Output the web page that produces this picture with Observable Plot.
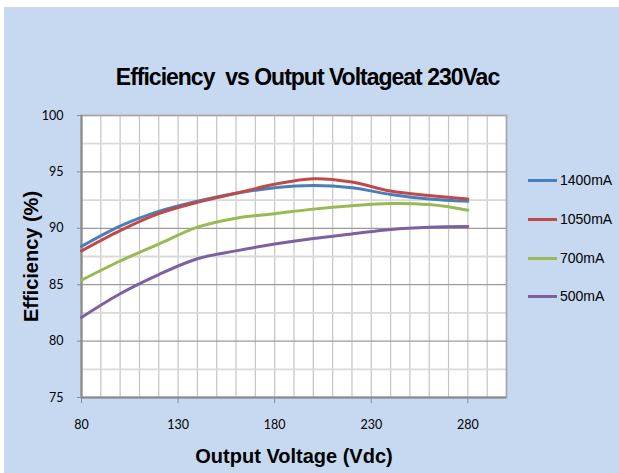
<!DOCTYPE html>
<html>
<head>
<meta charset="utf-8">
<script src="https://cdn.jsdelivr.net/npm/d3@7"></script>
<script src="https://cdn.jsdelivr.net/npm/@observablehq/plot@0.6"></script>
<style>
  html, body { margin: 0; padding: 0; background: #ffffff; }
  #wrap {
    position: relative; width: 619px; height: 473px; box-sizing: border-box;
    border-top: 7px solid #ffffff; border-left: 4px solid #ffffff;
    background: #c6d9f1; overflow: hidden;
    font-family: "Liberation Sans", Arial, sans-serif;
  }
  #title {
    position: absolute; left: 0; width: 607px; top: 57px; text-align: center;
    font-size: 23px; font-weight: bold; letter-spacing: -1px; color: #000; white-space: nowrap;
  }
  #chart { position: absolute; left: 0; top: 93px; }
  #legend { position: absolute; left: 524px; top: 0; }
  .lg { position: absolute; left: 0; white-space: nowrap; font-size: 14px; color: #000; }
  .lg span.sw { display: inline-block; width: 29px; height: 3px; vertical-align: middle; margin-right: 3px; position: relative; top: -1px; }
  g[aria-label="x-axis label"] text, g[aria-label="y-axis label"] text {
    font-size: 20px; font-weight: bold; font-family: "Liberation Sans", Arial, sans-serif;
  }
</style>
</head>
<body>
<div id="wrap">
  <div id="title">Efficiency&nbsp; vs Output Voltageat 230Vac</div>
  <div id="chart"></div>
  <div id="legend"></div>
</div>
<script>
const voltages = [80, 100, 120, 140, 160, 180, 200, 220, 240, 260, 280];
const eff1400 = [88.4, 90.2, 91.5, 92.4, 93.1, 93.6, 93.8, 93.6, 93.0, 92.6, 92.4];
const eff1050 = [88.0, 89.8, 91.3, 92.3, 93.1, 93.9, 94.4, 94.1, 93.3, 92.9, 92.6];
const eff700  = [85.4, 87.1, 88.6, 90.1, 90.9, 91.3, 91.7, 92.0, 92.2, 92.1, 91.6];
const eff500  = [82.1, 84.2, 85.9, 87.3, 88.0, 88.6, 89.1, 89.5, 89.9, 90.1, 90.15];
const seriesNames = ["1400mA", "1050mA", "700mA", "500mA"];
const seriesColors = ["#4a7ebb", "#be4b48", "#98b954", "#7d60a0"];
const xTicks = [80, 130, 180, 230, 280];
const yTicks = [75, 80, 85, 90, 95, 100];

const seriesValues = [eff1400, eff1050, eff700, eff500];
const data = [];
seriesValues.forEach((vals, i) => vals.forEach((v, j) => data.push({series: seriesNames[i], x: voltages[j], y: v})));

const plot = Plot.plot({
  width: 615,
  height: 373,
  marginLeft: 77,
  marginRight: 113,
  marginTop: 15,
  marginBottom: 76,
  style: { background: "transparent", fontFamily: "Lato, 'Liberation Sans', sans-serif", fontSize: "12.5px", color: "#000" },
  x: { domain: [80, 300] },
  y: { domain: [75, 100] },
  color: { domain: seriesNames, range: seriesColors },
  marks: [
    Plot.frame({ fill: "#ffffff", stroke: null }),
    Plot.gridX(d3.range(90, 300, 10), { stroke: "#c4c4c4", strokeOpacity: 1, strokeWidth: 1.2 }),
    Plot.gridY(d3.range(77.5, 100, 5), { stroke: "#d9d9d9", strokeOpacity: 1, strokeWidth: 1.8 }),
    Plot.gridY([80, 85, 90, 95], { stroke: "#9a9a9a", strokeOpacity: 1, strokeWidth: 1.2 }),
    Plot.frame({ stroke: "#a8a8a8", strokeWidth: 1.8 }),
    Plot.ruleX([80], { stroke: "#8a8a8a", strokeWidth: 2 }),
    Plot.ruleY([75], { stroke: "#8a8a8a", strokeWidth: 2 }),
    Plot.axisX({ ticks: xTicks, tickSize: 6, tickPadding: 17, stroke: "#8a8a8a", label: "Output Voltage (Vdc)", labelAnchor: "center", labelArrow: false, labelOffset: 65 }),
    Plot.axisY({ ticks: yTicks, tickSize: 4, tickPadding: 14, stroke: "#8a8a8a", label: "Efficiency (%)", labelAnchor: "center", labelArrow: false, labelOffset: 58 }),
    Plot.line(data, { x: "x", y: "y", stroke: "series", z: "series", strokeWidth: 3, curve: "catmull-rom" })
  ]
});
document.getElementById("chart").appendChild(plot);

const legend = document.getElementById("legend");
const legendTops = [165, 204, 243, 281];
seriesNames.forEach((name, i) => {
  const d = document.createElement("div");
  d.className = "lg";
  d.style.top = legendTops[i] + "px";
  d.innerHTML = `<span class="sw" style="background:${seriesColors[i]}"></span>${name}`;
  legend.appendChild(d);
});
</script>
</body>
</html>
